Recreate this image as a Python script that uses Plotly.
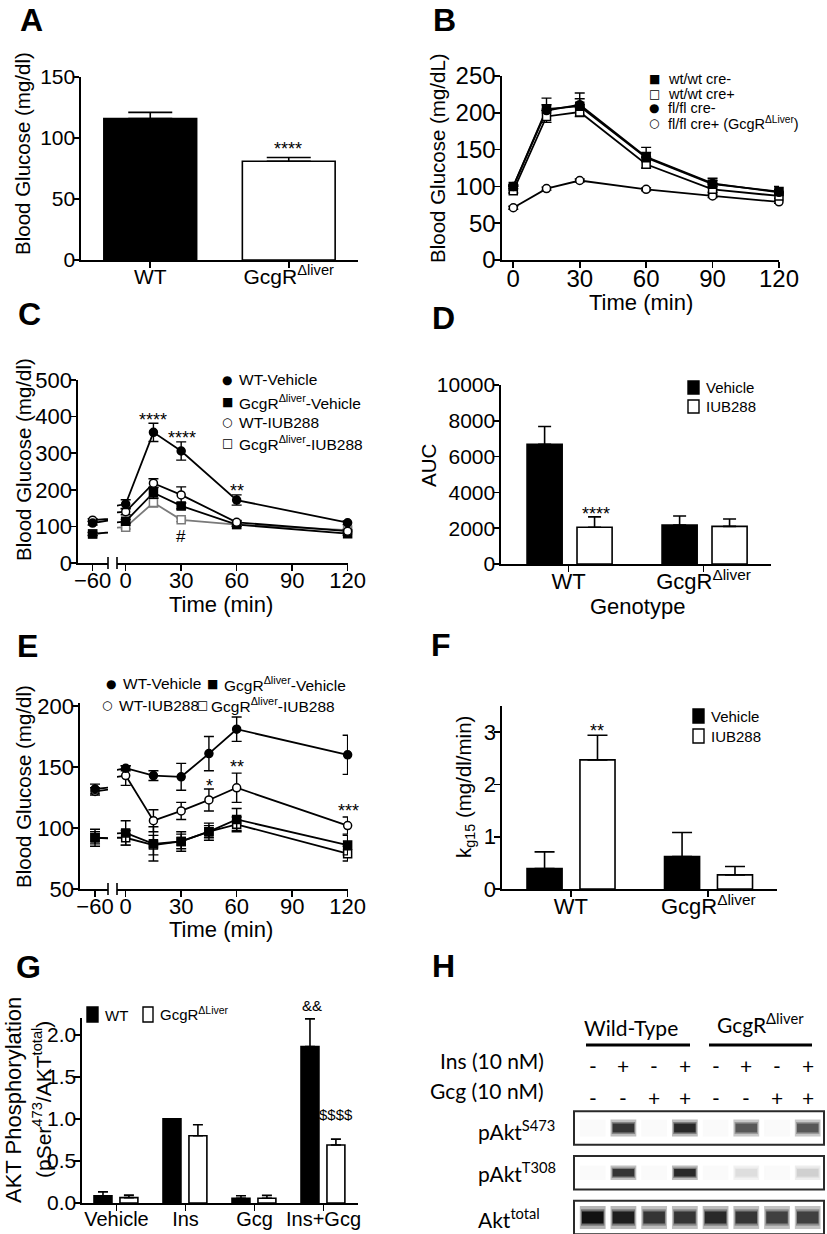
import plotly.graph_objects as go

# ----------------------------- data -----------------------------
# A: fasting blood glucose
a_groups = ["WT", "GcgR<sup>Δliver</sup>"]
a_mean = [116, 81]
a_sem = [5, 3]

# B: glucose tolerance (mg/dL)
b_time = [0, 15, 30, 60, 90, 120]
b_wtwt_neg = [100, 205, 209, 139, 103, 93]
b_wtwt_neg_err = [2, 15, 18, 14, 8, 7]
b_wtwt_pos = [94, 195, 201, 130, 96, 87]
b_wtwt_pos_err = [3, 8, 6, 5, 4, 3]
b_flfl_neg = [100, 203, 211, 140, 104, 92]
b_flfl_neg_err = [2, 8, 8, 6, 4, 4]
b_flfl_pos = [71, 97, 108, 96, 87, 79]
b_flfl_pos_err = [2, 2, 2, 2, 2, 2]

# C: GTT after vehicle / IUB288
c_time = [-60, 0, 15, 30, 60, 120]
c_wt_veh = [109, 161, 357, 306, 172, 110]
c_wt_veh_err = [5, 12, 25, 25, 14, 5]
c_ko_veh = [79, 114, 192, 156, 105, 80]
c_ko_veh_err = [4, 5, 15, 8, 5, 4]
c_wt_iub = [117, 140, 218, 186, 111, 87]
c_wt_iub_err = [4, 8, 12, 22, 4, 4]
c_ko_iub = [80, 98, 165, 118, 105, 90]
c_ko_iub_err = [4, 5, 12, 5, 4, 4]

# D: AUC
d_groups = ["WT", "GcgR<sup>Δliver</sup>"]
d_vehicle = [6690, 2180]
d_vehicle_err = [990, 500]
d_iub = [2050, 2100]
d_iub_err = [580, 410]

# E: ITT
e_time = [-60, 0, 15, 30, 45, 60, 120]
e_wt_veh = [132, 149, 143, 142, 161, 181, 160]
e_wt_veh_err = [4, 2, 4, 11, 14, 10, 16]
e_wt_iub = [130, 143, 106, 114, 123, 133, 102]
e_wt_iub_err = [3, 8, 9, 7, 9, 12, 7]
e_ko_veh = [92, 96, 87, 89, 97, 107, 86]
e_ko_veh_err = [7, 10, 14, 8, 7, 9, 8]
e_ko_iub = [92, 92, 86, 89, 97, 103, 79]
e_ko_iub_err = [5, 6, 8, 6, 5, 6, 6]

# F: kg15
f_groups = ["WT", "GcgR<sup>Δliver</sup>"]
f_vehicle = [0.39, 0.62]
f_vehicle_err = [0.32, 0.46]
f_iub = [2.47, 0.27]
f_iub_err = [0.47, 0.16]

# G: AKT phosphorylation
g_treat = ["Vehicle", "Ins", "Gcg", "Ins+Gcg"]
g_wt = [0.087, 1.0, 0.056, 1.86]
g_wt_err = [0.045, 0.0, 0.03, 0.33]
g_ko = [0.064, 0.80, 0.056, 0.69]
g_ko_err = [0.03, 0.13, 0.035, 0.07]

# H: western blot (relative band intensity per lane)
h_lanes = [1, 2, 3, 4, 5, 6, 7, 8]
h_ins = ["-", "+", "-", "+", "-", "+", "-", "+"]
h_gcg = ["-", "-", "+", "+", "-", "-", "+", "+"]
h_row_labels = ["pAkt<sup>S473</sup>", "pAkt<sup>T308</sup>", "Akt<sup>total</sup>"]
h_s473 = [0, 0.85, 0, 0.9, 0, 0.7, 0, 0.7]
h_t308 = [0, 0.85, 0, 0.9, 0, 0.12, 0, 0.18]
h_total = [1.0, 0.95, 0.85, 0.85, 0.9, 0.85, 0.8, 0.8]

# ----------------------------- helpers -----------------------------
W, H = 827, 1234
FONT = "Liberation Sans, Arial, Helvetica, sans-serif"
BLOT_FONT = "Lato, Open Sans, sans-serif"
SYM_FONT = "DejaVu Sans"


def X(p):
    return p / W


def Y(p):
    return 1 - p / H


def xdom(a, b):
    return [X(a), X(b)]


def ydom(top, bottom):
    return [Y(bottom), Y(top)]


AX = dict(showline=True, linecolor="black", linewidth=1.6, ticks="outside",
          ticklen=6, tickwidth=1.6, tickcolor="black", showgrid=False,
          zeroline=False, fixedrange=True, automargin=False)


def axis(domain, size, kind, **kw):
    d = dict(AX)
    d.update(domain=domain, tickfont=dict(family=FONT, size=size, color="black"),
             ticklabelstandoff=-9 if kind == "x" else -6)
    d.update(kw)
    return d


annotations = []
shapes = []


def text(t, x, y, size=20, xanchor="center", yanchor="middle", family=FONT,
         angle=0, xref="paper"):
    annotations.append(dict(
        text=t, x=X(x) if xref == "paper" else x, y=Y(y), xref=xref, yref="paper",
        showarrow=False, xanchor=xanchor, yanchor=yanchor, textangle=angle,
        font=dict(family=family, size=size, color="black")))


def hline(x0, x1, y, w=1.6):
    shapes.append(dict(type="line", xref="paper", yref="paper", x0=X(x0), x1=X(x1),
                       y0=Y(y), y1=Y(y), line=dict(color="black", width=w)))


def vline(x, y0, y1, w=1.6):
    shapes.append(dict(type="line", xref="paper", yref="paper", x0=X(x), x1=X(x),
                       y0=Y(y0), y1=Y(y1), line=dict(color="black", width=w)))


def swatch(x0, x1, y0, y1, fill):
    shapes.append(dict(type="rect", xref="paper", yref="paper", x0=X(x0), x1=X(x1),
                       y0=Y(y1), y1=Y(y0), fillcolor=fill,
                       line=dict(color="black", width=1.4)))


fig = go.Figure()


def marker(symbol, fill, lc, size=8):
    return dict(symbol=symbol, size=size, color=fill, line=dict(color=lc, width=1.5))


def err(arr, lc, cap=5, minus=None):
    d = dict(type="data", array=arr, color=lc, thickness=1.4, width=cap)
    if minus is not None:
        d.update(symmetric=False, arrayminus=minus)
    return d


def bars(xa, ya, cats, vals, errs, color, width, offset, cap):
    fig.add_trace(go.Bar(
        x=cats, y=vals, width=width, offset=offset, xaxis=xa, yaxis=ya,
        marker=dict(color=color, line=dict(color="black", width=1.6)),
        error_y=dict(type="data", symmetric=False, array=errs,
                     arrayminus=[0] * len(errs), color="black", thickness=1.6, width=cap),
        hoverinfo="skip"))


layout_axes = {}

# ----------------------------- A -----------------------------
layout_axes["xaxis"] = axis(xdom(81, 358), 21, "x", anchor="y", type="category", range=[-0.5, 1.5])
layout_axes["yaxis"] = axis(ydom(77, 260), 21, "y", anchor="x", range=[0, 150], tickvals=[0, 50, 100, 150])
bars("x", "y", a_groups, a_mean, a_sem, ["black", "white"], 0.67, -0.335, 22)

# ----------------------------- B -----------------------------
layout_axes["xaxis2"] = axis(xdom(502, 779), 24, "x", anchor="y2", range=[-5.1, 120],
                             tickvals=[0, 30, 60, 90, 120])
layout_axes["yaxis2"] = axis(ydom(76, 260), 24, "y", anchor="x2", range=[0, 250],
                             tickvals=[0, 50, 100, 150, 200, 250])
b_series = [
    (b_flfl_pos, b_flfl_pos_err, "circle", "white"),
    (b_wtwt_pos, b_wtwt_pos_err, "square", "white"),
    (b_flfl_neg, b_flfl_neg_err, "circle", "black"),
    (b_wtwt_neg, b_wtwt_neg_err, "square", "black"),
]
for yv, ev, sym, fill in b_series:
    fig.add_trace(go.Scatter(x=b_time, y=yv, mode="lines", xaxis="x2", yaxis="y2",
                             line=dict(color="black", width=1.8), hoverinfo="skip"))
for yv, ev, sym, fill in b_series:
    fig.add_trace(go.Scatter(x=b_time, y=yv, mode="markers", xaxis="x2", yaxis="y2",
                             marker=marker(sym, fill, "black"), cliponaxis=False,
                             error_y=err(ev, "black", 5, [0] * len(ev) if fill == "black" else None),
                             hoverinfo="skip"))


# ----------------------------- broken-axis line panels -----------------------------
def broken_panel(xl, xr, ya, t, series):
    for yv, ev, sym, fill, lc in series:
        for xa in (xl, xr):
            fig.add_trace(go.Scatter(x=t, y=yv, mode="lines", xaxis=xa, yaxis=ya,
                                     line=dict(color=lc, width=1.8), hoverinfo="skip"))
    for yv, ev, sym, fill, lc in series:
        fig.add_trace(go.Scatter(x=t[:1], y=yv[:1], mode="markers", xaxis=xl, yaxis=ya,
                                 marker=marker(sym, fill, lc), cliponaxis=False,
                                 error_y=err(ev[:1], lc), hoverinfo="skip"))
        fig.add_trace(go.Scatter(x=t[1:], y=yv[1:], mode="markers", xaxis=xr, yaxis=ya,
                                 marker=marker(sym, fill, lc), cliponaxis=False,
                                 error_y=err(ev[1:], lc), hoverinfo="skip"))


# ----------------------------- C -----------------------------
layout_axes["xaxis3"] = axis(xdom(78, 108), 22, "x", anchor="y3", range=[-67.9, -51.7], tickvals=[-60])
layout_axes["xaxis4"] = axis(xdom(117, 348), 22, "x", anchor="y3", range=[-4.7, 120.2],
                             tickvals=[0, 30, 60, 90, 120])
layout_axes["yaxis3"] = axis(ydom(380, 563), 22, "y", anchor="x3", range=[0, 500],
                             tickvals=[0, 100, 200, 300, 400, 500])
broken_panel("x3", "x4", "y3", c_time, [
    (c_ko_iub, c_ko_iub_err, "square", "white", "#7a7a7a"),
    (c_ko_veh, c_ko_veh_err, "square", "black", "black"),
    (c_wt_iub, c_wt_iub_err, "circle", "white", "black"),
    (c_wt_veh, c_wt_veh_err, "circle", "black", "black"),
])

# ----------------------------- D -----------------------------
layout_axes["xaxis5"] = axis(xdom(501, 771), 22, "x", anchor="y5", type="category", range=[-0.5, 1.5])
layout_axes["yaxis5"] = axis(ydom(385, 564), 21, "y", anchor="x5", range=[0, 10000],
                             tickvals=[0, 2000, 4000, 6000, 8000, 10000], tickformat="d")
bars("x5", "y5", d_groups, d_vehicle, d_vehicle_err, "black", 0.26, -0.307, 6.5)
bars("x5", "y5", d_groups, d_iub, d_iub_err, "white", 0.26, 0.063, 6.5)

# ----------------------------- E -----------------------------
layout_axes["xaxis6"] = axis(xdom(80, 108), 22, "x", anchor="y6", range=[-68.1, -53], tickvals=[-60])
layout_axes["xaxis7"] = axis(xdom(117, 348), 22, "x", anchor="y6", range=[-4.7, 120.2],
                             tickvals=[0, 30, 60, 90, 120])
layout_axes["yaxis6"] = axis(ydom(703, 889), 22, "y", anchor="x6", range=[50, 202.5],
                             tickvals=[50, 100, 150, 200])
broken_panel("x6", "x7", "y6", e_time, [
    (e_ko_iub, e_ko_iub_err, "square", "white", "black"),
    (e_ko_veh, e_ko_veh_err, "square", "black", "black"),
    (e_wt_iub, e_wt_iub_err, "circle", "white", "black"),
    (e_wt_veh, e_wt_veh_err, "circle", "black", "black"),
])

# ----------------------------- F -----------------------------
layout_axes["xaxis8"] = axis(xdom(502, 777), 22, "x", anchor="y8", type="category", range=[-0.5, 1.5])
layout_axes["yaxis8"] = axis(ydom(706, 889), 22, "y", anchor="x8", range=[0, 3.5], tickvals=[0, 1, 2, 3])
bars("x8", "y8", f_groups, f_vehicle, f_vehicle_err, "black", 0.255, -0.318, 10)
bars("x8", "y8", f_groups, f_iub, f_iub_err, "white", 0.255, 0.067, 10)

# ----------------------------- G -----------------------------
layout_axes["xaxis9"] = axis(xdom(82, 358), 20, "x", anchor="y9", type="category", range=[-0.5, 3.5])
layout_axes["yaxis9"] = axis(ydom(1018, 1203), 21, "y", anchor="x9", range=[0, 2.2],
                             tickvals=[0, 0.5, 1, 1.5, 2], tickformat=".1f")
bars("x9", "y9", g_treat, g_wt, g_wt_err, "black", 0.26, -0.326, 5)
bars("x9", "y9", g_treat, g_ko, g_ko_err, "white", 0.26, 0.05, 5)

# ----------------------------- H (blot) -----------------------------
layout_axes["xaxis10"] = dict(domain=xdom(574, 824), range=[0.391, 8.53], visible=False,
                              anchor="y10", fixedrange=True, automargin=False)
layout_axes["yaxis10"] = dict(domain=ydom(1100, 1234), range=[2.369, -0.626], visible=False,
                              anchor="x10", fixedrange=True, automargin=False)


def grey(i, k=1.0):
    g = int(round(250 - 232 * i * k))
    return f"rgb({g},{g},{g})"


for row, (vals, thick) in enumerate([(h_s473, 0.2), (h_t308, 0.17), (h_total, 0.27)]):
    for wfac, hfac, k in [(0.84, 1.9, 0.3), (0.76, 1.35, 0.6), (0.7, 1.0, 1.0)]:
        fig.add_trace(go.Bar(
            x=h_lanes, y=[thick * hfac] * len(vals), base=[row - thick * hfac / 2] * len(vals),
            width=wfac, marker=dict(color=[grey(v, k) for v in vals], line=dict(width=0)),
            xaxis="x10", yaxis="y10", hoverinfo="skip"))
    shapes.append(dict(type="rect", xref="x10 domain", yref="y10", x0=0, x1=1,
                       y0=row - 0.372, y1=row + 0.372, line=dict(color="#2a2a2a", width=2)))

for lane, s in zip(h_lanes, h_ins):
    text(s, lane, 1065, 21, family=BLOT_FONT, xref="x10")
for lane, s in zip(h_lanes, h_gcg):
    text(s, lane, 1097, 21, family=BLOT_FONT, xref="x10")
text("Ins (10 nM)", 546, 1060, 21, xanchor="right", family=BLOT_FONT)
text("Gcg (10 nM)", 546, 1090, 21, xanchor="right", family=BLOT_FONT)
for lab, yy in zip(h_row_labels, [1130, 1172, 1218]):
    text(lab, 476, yy, 21, xanchor="left", family=BLOT_FONT)
text("Wild-Type", 631, 1027, 21, family=BLOT_FONT)
text("GcgR<sup>Δliver</sup>", 760, 1023, 21, family=BLOT_FONT)
hline(586, 690, 1045, 3)
hline(709, 812, 1045, 3)

# ----------------------------- axis breaks -----------------------------
for xb in (108, 117):
    vline(xb, 557, 569)
    vline(xb, 883, 895)

# ----------------------------- panel letters -----------------------------
for lab, x, y in [("A", 31, 20), ("B", 444, 20), ("C", 29, 314), ("D", 443, 318),
                  ("E", 27, 646), ("F", 441, 645), ("G", 28, 967), ("H", 443, 966)]:
    text("<b>" + lab + "</b>", x, y, 32)

# ----------------------------- axis titles -----------------------------
text("Blood Glucose (mg/dl)", 23, 154, 20.5, angle=-90)
text("Blood Glucose (mg/dL)", 437, 158, 20.5, angle=-90)
text("Blood Glucose (mg/dl)", 23, 460, 20.5, angle=-90)
text("AUC", 428, 466, 20.5, angle=-90)
text("Blood Glucose (mg/dl)", 23, 787, 20.5, angle=-90)
text("k<sub>g15</sub> (mg/dl/min)", 465, 787, 20.5, angle=-90)
text("AKT Phosphorylation", 13, 1100, 22, angle=-90)
text("(pSer<sup>473</sup>/AKT<sup>total</sup>)", 42, 1100, 21, angle=-90)
text("Time (min)", 641, 302, 22)
text("Time (min)", 221, 604, 22)
text("Genotype", 637, 606, 22)
text("Time (min)", 221, 929, 22)

# ----------------------------- significance marks -----------------------------
for s, x, y, sz in [("****", 288, 149, 18), ("****", 153, 420, 18), ("****", 182, 438, 18),
                    ("**", 237, 491, 18), ("#", 181, 536, 17), ("****", 596, 514, 18),
                    ("*", 209, 786, 18), ("**", 237, 767, 18), ("***", 348, 811, 18),
                    ("**", 597, 731, 18), ("&&", 312, 1005, 15), ("$$$$", 336, 1114, 15)]:
    text(s, x, y, sz)

# ----------------------------- legends -----------------------------
# B
for g, lab, yy in [("■", "wt/wt cre-", 79), ("□", "wt/wt cre+", 94),
                   ("●", "fl/fl cre-", 108.5), ("○", "fl/fl cre+ (GcgR<sup>ΔLiver</sup>)", 123.5)]:
    text(g, 654, yy, 12, family=SYM_FONT)
    text(lab, 666, yy, 14.5, xanchor="left")
# C
for g, lab, yy in [("●", "WT-Vehicle", 380), ("■", "GcgR<sup>Δliver</sup>-Vehicle", 401.5),
                   ("○", "WT-IUB288", 422), ("□", "GcgR<sup>Δliver</sup>-IUB288", 443)]:
    text(g, 227, yy, 12, family=SYM_FONT)
    text(lab, 237, yy, 15.5, xanchor="left")
# E
for g, gx, lab, lx, yy in [("●", 110.5, "WT-Vehicle", 121, 684),
                           ("■", 212, "GcgR<sup>Δliver</sup>-Vehicle", 222, 684),
                           ("○", 106.5, "WT-IUB288", 116.5, 705),
                           ("□", 202.5, "GcgR<sup>Δliver</sup>-IUB288", 209, 705)]:
    text(g, gx, yy, 12, family=SYM_FONT)
    text(lab, lx, yy, 15.5, xanchor="left")
# D
swatch(688, 699, 381, 394, "black")
swatch(688, 699, 400, 413, "white")
text("Vehicle", 704, 387.5, 15, xanchor="left")
text("IUB288", 704, 406.5, 15, xanchor="left")
# F
swatch(693, 704, 709, 723, "black")
swatch(693, 704, 729, 743, "white")
text("Vehicle", 709, 716, 15, xanchor="left")
text("IUB288", 709, 736, 15, xanchor="left")
# G
swatch(87, 98, 1007, 1022, "black")
swatch(143, 153, 1007, 1022, "white")
text("WT", 103, 1015, 15, xanchor="left")
text("GcgR<sup>ΔLiver</sup>", 158, 1013, 15, xanchor="left")

fig.update_layout(
    template="none",
    width=W, height=H, autosize=False,
    margin=dict(l=0, r=0, t=0, b=0, pad=0),
    paper_bgcolor="white", plot_bgcolor="white",
    barmode="overlay", showlegend=False,
    font=dict(family=FONT, color="black"),
    annotations=annotations, shapes=shapes,
    **layout_axes,
)

fig.write_html("out.html",
               config={"displayModeBar": False, "staticPlot": True},
               post_script="document.body.style.margin='0px';"
                           "document.body.style.overflow='hidden';")
